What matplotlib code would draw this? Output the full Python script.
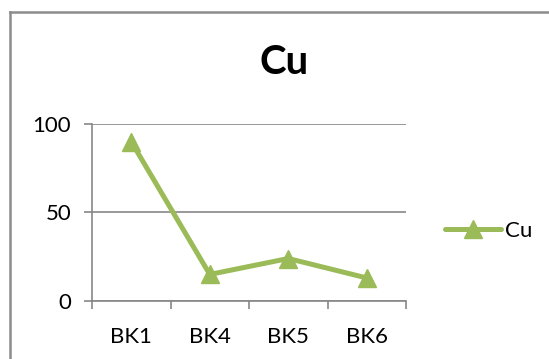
import matplotlib.pyplot as plt
from matplotlib.lines import Line2D

samples = ['BK1', 'BK4', 'BK5', 'BK6']
cu_values = [90, 15, 24, 13]
y_ticks = [0, 50, 100]

green = '#9BBB59'
grid_gray = '#878787'

plt.rcParams['font.family'] = ['Lato', 'DejaVu Sans']

fig = plt.figure(figsize=(5.49, 3.59), dpi=100)
ax = fig.add_axes([0.1676, 0.1616, 0.572, 0.4930])

x = list(range(len(samples)))
ax.plot(x, cu_values, color=green, linewidth=3.6, marker='^', markersize=13,
        markeredgecolor=green, markerfacecolor=green, label='Cu', solid_capstyle='round',
        solid_joinstyle='round', clip_on=False)

ax.set_xlim(-0.5, len(samples) - 0.5)
ax.set_ylim(0, 100)
ax.set_yticks(y_ticks)
ax.set_xticks([i - 0.5 for i in range(len(samples) + 1)], minor=False)
ax.set_xticklabels([])
ax.set_xticks(x, minor=True)
ax.set_xticklabels(samples, minor=True, fontsize=16)
ax.tick_params(axis='x', which='minor', length=0, pad=19)
ax.tick_params(axis='x', which='major', length=6, width=1.2, color=grid_gray, direction='out')
ax.tick_params(axis='y', length=6, width=1.2, color=grid_gray, labelsize=16, pad=9)

ax.grid(axis='y', color=grid_gray, linewidth=1.2)
ax.set_axisbelow(True)
for side in ('top', 'right'):
    ax.spines[side].set_visible(False)
for side in ('left', 'bottom'):
    ax.spines[side].set_color(grid_gray)
    ax.spines[side].set_linewidth(1.2)

fig.text(0.518, 0.826, 'Cu', fontsize=29, fontweight='bold', ha='center', va='center')

ax.legend(loc='center left', bbox_to_anchor=(1.125, 0.395), frameon=False, fontsize=16,
          handlelength=2.5, handletextpad=0.2, borderaxespad=0, borderpad=0)

# outer chart frame (only left and top edges fall inside the canvas)
fig.add_artist(Line2D([0.018, 0.018], [0, 0.967], color='#8c8c8c', linewidth=1.8,
                      transform=fig.transFigure))
fig.add_artist(Line2D([0.018, 1.0], [0.967, 0.967], color='#8c8c8c', linewidth=1.8,
                      transform=fig.transFigure))

fig.savefig('out.png', dpi=100)
